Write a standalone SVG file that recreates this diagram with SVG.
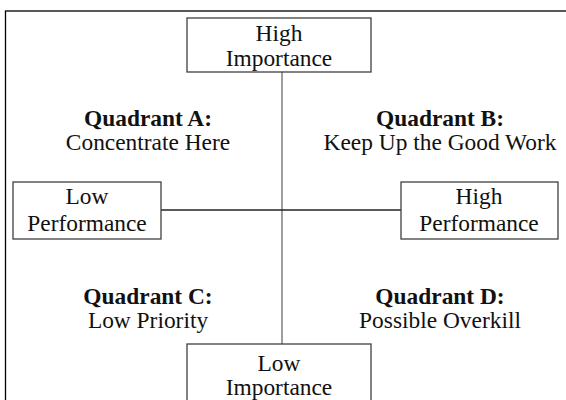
<svg xmlns="http://www.w3.org/2000/svg" width="566" height="400" viewBox="0 0 566 400">
<style>
  .t { font-family: "Liberation Serif", "Times New Roman", serif; font-size: 23.4px; fill: #111; text-anchor: middle; }
  .b { font-weight: bold; }
  .box { fill: #fff; stroke: #404040; stroke-width: 1.3; }
</style>
<rect x="0" y="0" width="566" height="400" fill="#fff"/>
<rect id="frame" x="5.5" y="11" width="580" height="420" fill="none" stroke="#000" stroke-width="1.3"/>
<g id="connectors">
  <line x1="282" y1="72" x2="282" y2="344" stroke="#6a6a6a" stroke-width="1.3"/>
  <line x1="161" y1="210" x2="401" y2="210" stroke="#222" stroke-width="1.3"/>
</g>
<g id="high-importance">
  <rect class="box" x="187" y="18" width="184" height="54"/>
  <text class="t" x="279" y="41">High</text>
  <text class="t" x="279" y="66">Importance</text>
</g>
<g id="low-performance">
  <rect class="box" x="13" y="182" width="148" height="57"/>
  <text class="t" x="87" y="204">Low</text>
  <text class="t" x="87" y="231">Performance</text>
</g>
<g id="high-performance">
  <rect class="box" x="401" y="182" width="157" height="57"/>
  <text class="t" x="479" y="204">High</text>
  <text class="t" x="479" y="231">Performance</text>
</g>
<g id="low-importance">
  <rect class="box" x="187" y="344" width="184" height="70"/>
  <text class="t" x="279" y="371">Low</text>
  <text class="t" x="279" y="395">Importance</text>
</g>
<g id="quadrant-a">
  <text class="t b" x="148" y="126">Quadrant A:</text>
  <text class="t" x="148" y="150">Concentrate Here</text>
</g>
<g id="quadrant-b">
  <text class="t b" x="440" y="126">Quadrant B:</text>
  <text class="t" x="440" y="150">Keep Up the Good Work</text>
</g>
<g id="quadrant-c">
  <text class="t b" x="148" y="304">Quadrant C:</text>
  <text class="t" x="148" y="328">Low Priority</text>
</g>
<g id="quadrant-d">
  <text class="t b" x="440" y="304">Quadrant D:</text>
  <text class="t" x="440" y="328">Possible Overkill</text>
</g>
</svg>
